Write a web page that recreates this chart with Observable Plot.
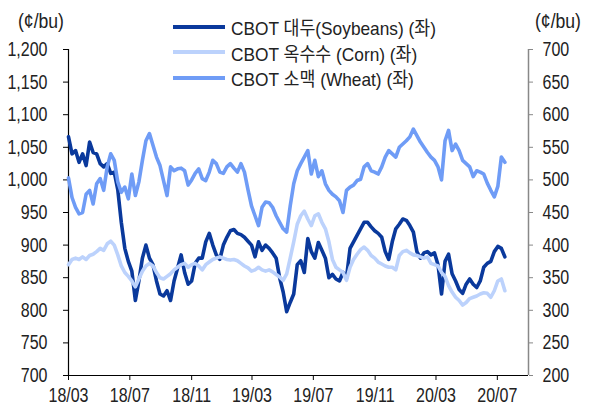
<!DOCTYPE html>
<html>
<head>
<meta charset="utf-8">
<script src="https://cdn.jsdelivr.net/npm/d3@7"></script>
<script src="https://cdn.jsdelivr.net/npm/@observablehq/plot@0.6"></script>
<style>
  html, body { margin: 0; padding: 0; background: #fff; }
  #wrap { position: relative; width: 591px; height: 405px; font-family: "Liberation Sans", Arial, "Noto Sans CJK KR", sans-serif; color: #222; }
  .unit { position: absolute; font-size: 20px; top: 10px; transform: scaleX(0.88); transform-origin: left center; white-space: nowrap; }
  #legend { position: absolute; left: 173px; top: 14px; font-size: 19px; }
  .item { display: flex; align-items: center; height: 25.5px; white-space: nowrap; }
  .sw { width: 52px; height: 4px; margin-right: 6px; flex: none; }
  .lt { display: inline-block; transform: scaleX(0.91); transform-origin: left center; }
</style>
</head>
<body>
<div id="wrap"></div>
<script>
// Weekly observations starting 2018-03-01 (cents per bushel)
const startDate = "2018-03-01";
const soybeans = [
  1066,1040,1045,1027,1040,1022,1058,1042,1040,1025,
  1020,1025,1010,1012,985,935,895,875,860,815,
  845,880,900,880,870,845,825,822,830,815,
  845,865,885,858,840,845,872,880,880,905,
  918,900,885,878,900,912,922,924,918,916,
  912,906,900,882,905,892,900,895,888,880,
  850,828,798,812,825,870,876,858,910,890,
  880,904,892,880,850,855,848,845,858,850,
  895,905,915,925,935,935,928,922,918,912,
  890,878,905,925,932,940,938,930,920,890,
  880,888,890,885,888,870,825,875,886,856,
  845,832,826,840,848,840,835,845,866,872,
  875,890,898,895,882
];
// corn and wheat read on the right axis
const corn = [
  370,378,380,378,382,378,384,386,390,395,
  392,402,406,400,385,368,358,352,345,336,
  348,360,368,372,368,358,350,348,352,356,
  362,366,370,372,366,370,372,368,362,370,
  374,378,380,382,380,378,377,378,376,372,
  368,365,360,362,366,362,360,362,359,355,
  351,346,356,380,405,432,445,452,440,430,
  445,448,435,425,405,378,366,362,358,346,
  366,378,386,393,397,392,384,380,374,371,
  368,366,366,362,384,390,392,388,385,384,
  382,380,382,372,370,368,358,352,338,328,
  320,315,308,312,318,320,322,325,327,326,
  320,330,345,348,330
];
const wheat = [
  503,473,458,448,450,478,484,463,494,502,
  484,520,540,530,497,481,489,471,509,476,
  497,530,560,571,553,535,522,499,476,520,
  514,517,518,514,492,500,510,517,502,499,
  512,530,525,512,510,520,525,518,512,525,
  512,485,460,445,430,458,466,465,458,445,
  435,425,420,460,494,514,525,535,545,509,
  530,505,514,494,484,478,474,468,450,484,
  489,492,499,501,520,525,514,512,509,520,
  535,545,540,535,550,555,560,566,578,568,
  558,550,542,535,530,520,500,560,576,545,
  555,545,530,525,520,505,514,512,509,495,
  484,474,490,535,527
];
const leftTicks = [700, 750, 800, 850, 900, 950, 1000, 1050, 1100, 1150, 1200];
const rightTicks = [200, 250, 300, 350, 400, 450, 500, 550, 600, 650, 700];
const xTicks = ["2018-03-01","2018-07-01","2018-11-01","2019-03-01","2019-07-01","2019-11-01","2020-03-01","2020-07-01"];
const seriesNames = ["CBOT 대두(Soybeans) (좌)", "CBOT 옥수수 (Corn) (좌)", "CBOT 소맥 (Wheat) (좌)"];
const unitLabel = "(¢/bu)";
const colors = ["#0a399c", "#bcd2fc", "#6f9cf6"];

const start = new Date(startDate);
const dateAt = i => d3.utcDay.offset(start, 7 * i);
const offset = 500; // right axis = left axis - 500
const soyData = soybeans.map((v, i) => ({date: dateAt(i), y: v}));
const cornData = corn.map((v, i) => ({date: dateAt(i), y: v + offset}));
const wheatData = wheat.map((v, i) => ({date: dateAt(i), y: v + offset}));

const xMin = new Date("2018-03-01"), xMax = new Date("2020-09-01");
const font = '"Liberation Sans", Arial, "Noto Sans CJK KR", sans-serif';

const chart = Plot.plot({
  width: 591,
  height: 405,
  marginLeft: 68,
  marginRight: 63,
  marginTop: 49,
  marginBottom: 30,
  style: {fontFamily: font, fontSize: "20px", color: "#222", background: "transparent"},
  x: {type: "utc", domain: [xMin, xMax]},
  y: {domain: [700, 1200]},
  marks: [
    Plot.axisY({anchor: "left", ticks: leftTicks, tickFormat: d3.format(","), tickSize: 5, tickPadding: 16, label: null, stroke: "#000"}),
    Plot.axisY({anchor: "right", ticks: leftTicks, tickFormat: (d, i) => rightTicks[i], tickSize: 4, tickPadding: 10, label: null, stroke: "#888"}),
    Plot.axisX({ticks: xTicks.map(d => new Date(d)), tickFormat: d3.utcFormat("%y/%m"), tickSize: 5, tickPadding: 7, label: null, stroke: "#000"}),
    Plot.ruleX([xMax], {stroke: "#888", strokeWidth: 1.5}),
    Plot.ruleX([xMin], {stroke: "#000", strokeWidth: 1.2}),
    Plot.ruleY([700], {stroke: "#000", strokeWidth: 1.2}),
    Plot.line(soyData, {x: "date", y: "y", stroke: colors[0], strokeWidth: 3.6}),
    Plot.line(cornData, {x: "date", y: "y", stroke: colors[1], strokeWidth: 3.6}),
    Plot.line(wheatData, {x: "date", y: "y", stroke: colors[2], strokeWidth: 3.6})
  ]
});

// condense tick labels horizontally (narrow typeface look)
d3.select(chart).selectAll("text").each(function() {
  const t = this.getAttribute("transform") || "";
  this.setAttribute("transform", (t + " scale(0.8,1)").trim());
});

const wrap = document.getElementById("wrap");
wrap.appendChild(chart);

const ul = document.createElement("div");
ul.className = "unit"; ul.style.left = "18px"; ul.textContent = unitLabel;
wrap.appendChild(ul);
const ur = document.createElement("div");
ur.className = "unit"; ur.style.left = "535px"; ur.textContent = unitLabel;
wrap.appendChild(ur);

const legend = document.createElement("div");
legend.id = "legend";
seriesNames.forEach((name, i) => {
  const item = document.createElement("div");
  item.className = "item";
  const sw = document.createElement("div");
  sw.className = "sw"; sw.style.background = colors[i];
  const t = document.createElement("span");
  t.className = "lt";
  t.textContent = name;
  item.appendChild(sw); item.appendChild(t);
  legend.appendChild(item);
});
wrap.appendChild(legend);
</script>
</body>
</html>
